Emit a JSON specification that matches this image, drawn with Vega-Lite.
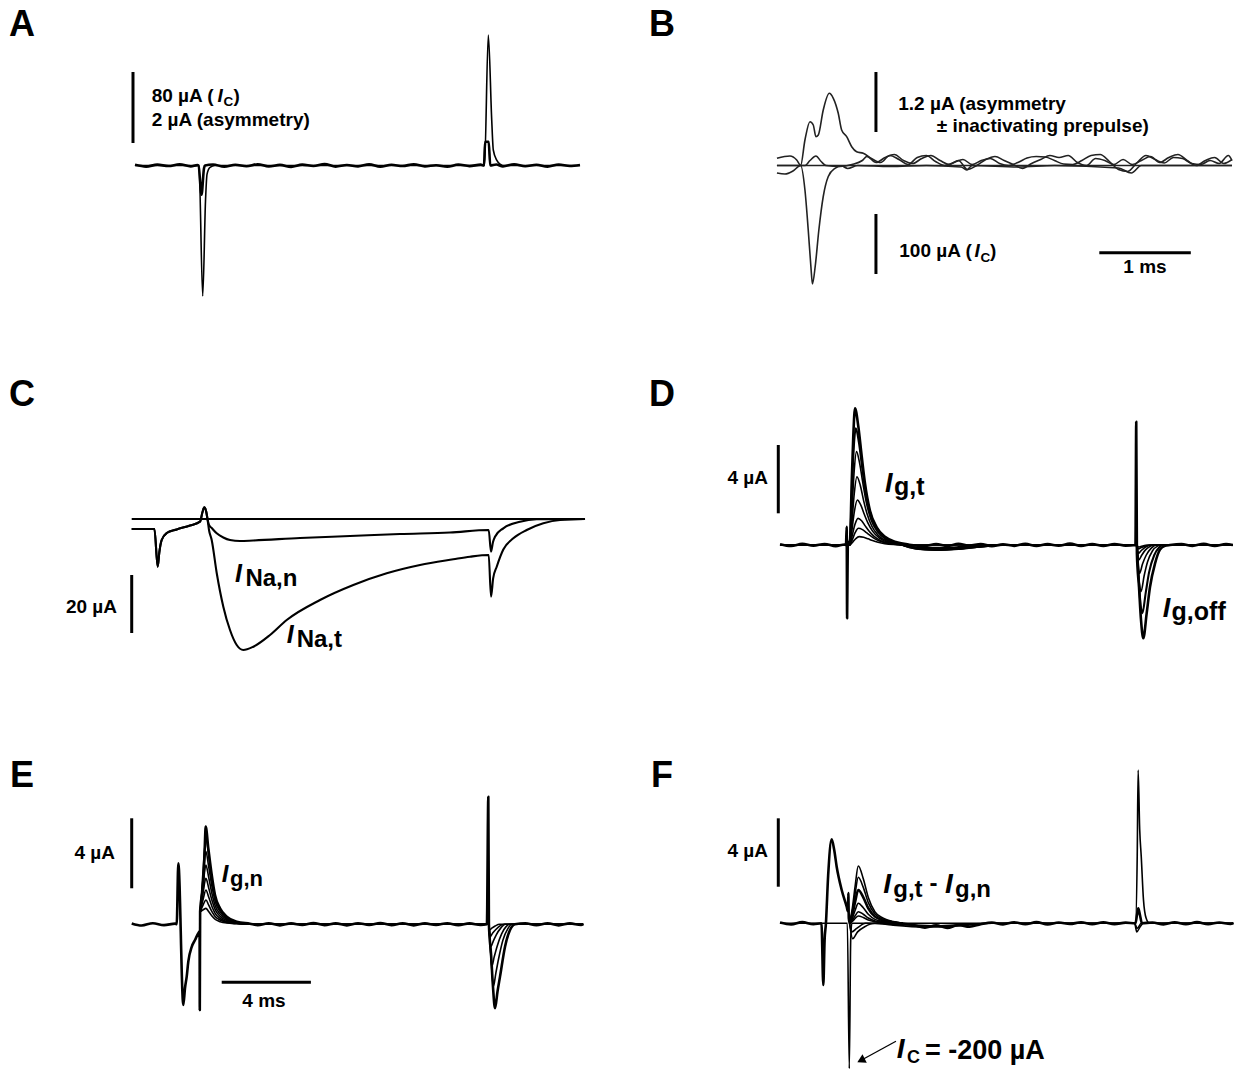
{
"$schema":"https://vega.github.io/schema/vega-lite/v6.json",
"padding":0,"background":"white","spacing":0,
"resolve":{"scale":{"x":"independent","y":"independent"}},
"config":{"view":{"stroke":null},"text":{"font":"Liberation Sans","fontWeight":"bold","color":"black"},"concat":{"spacing":0}},
"datasets":{
"traces":[
{"p":"A","s":"A1","r":"main","t":0,"i":0.8},{"p":"A","s":"A1","r":"main","t":0.5,"i":-1.2},{"p":"A","s":"A1","r":"main","t":1.0,"i":1.0},{"p":"A","s":"A1","r":"main","t":1.5,"i":-0.6},{"p":"A","s":"A1","r":"main","t":2.0,"i":1.4},{"p":"A","s":"A1","r":"main","t":2.5,"i":-1.0},{"p":"A","s":"A1","r":"main","t":2.8,"i":0.5},{"p":"A","s":"A1","r":"main","t":2.848,"i":0},{"p":"A","s":"A1","r":"main","t":2.982,"i":-33},{"p":"A","s":"A1","r":"main","t":3.094,"i":-3},{"p":"A","s":"A1","r":"main","t":3.139,"i":0},{"p":"A","s":"A1","r":"main","t":3.5,"i":1.2},{"p":"A","s":"A1","r":"main","t":4.0,"i":-1.4},{"p":"A","s":"A1","r":"main","t":4.5,"i":0.9},{"p":"A","s":"A1","r":"main","t":5.0,"i":-0.8},{"p":"A","s":"A1","r":"main","t":5.5,"i":1.5},{"p":"A","s":"A1","r":"main","t":6.0,"i":-1.1},{"p":"A","s":"A1","r":"main","t":6.5,"i":0.7},{"p":"A","s":"A1","r":"main","t":7.0,"i":-1.5},{"p":"A","s":"A1","r":"main","t":7.5,"i":1.0},{"p":"A","s":"A1","r":"main","t":8.0,"i":-0.5},{"p":"A","s":"A1","r":"main","t":8.5,"i":1.6},{"p":"A","s":"A1","r":"main","t":9.0,"i":-1.2},{"p":"A","s":"A1","r":"main","t":9.5,"i":0.6},{"p":"A","s":"A1","r":"main","t":10.0,"i":-0.9},{"p":"A","s":"A1","r":"main","t":10.5,"i":1.3},{"p":"A","s":"A1","r":"main","t":11.0,"i":-1.3},{"p":"A","s":"A1","r":"main","t":11.5,"i":0.8},{"p":"A","s":"A1","r":"main","t":12.0,"i":-0.6},{"p":"A","s":"A1","r":"main","t":12.5,"i":1.5},{"p":"A","s":"A1","r":"main","t":13.0,"i":-1.0},{"p":"A","s":"A1","r":"main","t":13.5,"i":0.4},{"p":"A","s":"A1","r":"main","t":14.0,"i":-1.4},{"p":"A","s":"A1","r":"main","t":14.5,"i":1.1},{"p":"A","s":"A1","r":"main","t":15.0,"i":-0.7},{"p":"A","s":"A1","r":"main","t":15.5,"i":1.0},{"p":"A","s":"A1","r":"main","t":15.65,"i":0},{"p":"A","s":"A1","r":"main","t":15.70,"i":26.8},{"p":"A","s":"A1","r":"main","t":15.86,"i":26.8},{"p":"A","s":"A1","r":"main","t":15.93,"i":0},{"p":"A","s":"A1","r":"main","t":16.2,"i":1.2},{"p":"A","s":"A1","r":"main","t":16.5,"i":-1.0},{"p":"A","s":"A1","r":"main","t":17.0,"i":1.4},{"p":"A","s":"A1","r":"main","t":17.5,"i":-0.8},{"p":"A","s":"A1","r":"main","t":18.0,"i":0.9},{"p":"A","s":"A1","r":"main","t":18.5,"i":-1.3},{"p":"A","s":"A1","r":"main","t":19.0,"i":1.1},{"p":"A","s":"A1","r":"main","t":19.5,"i":-0.6},{"p":"A","s":"A1","r":"main","t":19.955,"i":0.5},
{"p":"A","s":"A2","r":"thin","t":0,"i":0},{"p":"A","s":"A2","r":"thin","t":2.870,"i":0},{"p":"A","s":"A2","r":"thin","t":3.036,"i":-147},{"p":"A","s":"A2","r":"thin","t":3.161,"i":-40},{"p":"A","s":"A2","r":"thin","t":3.229,"i":-10},{"p":"A","s":"A2","r":"thin","t":3.363,"i":-2},{"p":"A","s":"A2","r":"thin","t":3.587,"i":0},{"p":"A","s":"A2","r":"thin","t":15.673,"i":0},{"p":"A","s":"A2","r":"thin","t":15.843,"i":147},{"p":"A","s":"A2","r":"thin","t":15.996,"i":51.3},{"p":"A","s":"A2","r":"thin","t":16.067,"i":17.5},{"p":"A","s":"A2","r":"thin","t":16.220,"i":6.2},{"p":"A","s":"A2","r":"thin","t":16.368,"i":1.7},{"p":"A","s":"A2","r":"thin","t":16.547,"i":0},{"p":"A","s":"A2","r":"thin","t":19.955,"i":0},

{"p":"B","s":"B0","r":"thin","t":-0.033,"i":0},{"p":"B","s":"B0","r":"thin","t":4.94,"i":0},
{"p":"B","s":"B1","r":"thin","t":-0.033,"i":0.144},{"p":"B","s":"B1","r":"thin","t":0.109,"i":0.19},{"p":"B","s":"B1","r":"thin","t":0.183,"i":0.11},{"p":"B","s":"B1","r":"thin","t":0.226,"i":0.0},{"p":"B","s":"B1","r":"thin","t":0.273,"i":0.51},{"p":"B","s":"B1","r":"thin","t":0.328,"i":0.876},{"p":"B","s":"B1","r":"thin","t":0.364,"i":0.81},{"p":"B","s":"B1","r":"thin","t":0.393,"i":0.576},{"p":"B","s":"B1","r":"thin","t":0.419,"i":0.61},{"p":"B","s":"B1","r":"thin","t":0.473,"i":1.11},{"p":"B","s":"B1","r":"thin","t":0.539,"i":1.444},{"p":"B","s":"B1","r":"thin","t":0.583,"i":1.344},{"p":"B","s":"B1","r":"thin","t":0.637,"i":1.044},{"p":"B","s":"B1","r":"thin","t":0.674,"i":0.71},{"p":"B","s":"B1","r":"thin","t":0.729,"i":0.576},{"p":"B","s":"B1","r":"thin","t":0.784,"i":0.376},{"p":"B","s":"B1","r":"thin","t":0.838,"i":0.276},{"p":"B","s":"B1","r":"thin","t":0.910,"i":0.244},{"p":"B","s":"B1","r":"thin","t":1.0,"i":0.14},{"p":"B","s":"B1","r":"thin","t":1.1,"i":0.06},{"p":"B","s":"B1","r":"thin","t":1.2,"i":0.2},{"p":"B","s":"B1","r":"thin","t":1.3,"i":0.12},{"p":"B","s":"B1","r":"thin","t":1.4,"i":0.02},{"p":"B","s":"B1","r":"thin","t":1.5,"i":0.16},{"p":"B","s":"B1","r":"thin","t":1.6,"i":0.2},{"p":"B","s":"B1","r":"thin","t":1.7,"i":0.08},{"p":"B","s":"B1","r":"thin","t":1.8,"i":0.0},{"p":"B","s":"B1","r":"thin","t":1.9,"i":0.06},{"p":"B","s":"B1","r":"thin","t":2.0,"i":0.12},{"p":"B","s":"B1","r":"thin","t":2.1,"i":0.02},{"p":"B","s":"B1","r":"thin","t":2.2,"i":0.1},{"p":"B","s":"B1","r":"thin","t":2.3,"i":0.14},{"p":"B","s":"B1","r":"thin","t":2.4,"i":0.04},{"p":"B","s":"B1","r":"thin","t":2.5,"i":0.0},{"p":"B","s":"B1","r":"thin","t":2.6,"i":0.06},{"p":"B","s":"B1","r":"thin","t":2.7,"i":0.15},{"p":"B","s":"B1","r":"thin","t":2.8,"i":0.18},{"p":"B","s":"B1","r":"thin","t":2.9,"i":0.17},{"p":"B","s":"B1","r":"thin","t":3.0,"i":0.1},{"p":"B","s":"B1","r":"thin","t":3.1,"i":0.03},{"p":"B","s":"B1","r":"thin","t":3.2,"i":0.02},{"p":"B","s":"B1","r":"thin","t":3.3,"i":0.1},{"p":"B","s":"B1","r":"thin","t":3.4,"i":0.2},{"p":"B","s":"B1","r":"thin","t":3.5,"i":0.22},{"p":"B","s":"B1","r":"thin","t":3.6,"i":0.08},{"p":"B","s":"B1","r":"thin","t":3.7,"i":-0.08},{"p":"B","s":"B1","r":"thin","t":3.8,"i":-0.12},{"p":"B","s":"B1","r":"thin","t":3.9,"i":0.05},{"p":"B","s":"B1","r":"thin","t":4.0,"i":0.2},{"p":"B","s":"B1","r":"thin","t":4.1,"i":0.12},{"p":"B","s":"B1","r":"thin","t":4.2,"i":0.05},{"p":"B","s":"B1","r":"thin","t":4.3,"i":0.16},{"p":"B","s":"B1","r":"thin","t":4.4,"i":0.14},{"p":"B","s":"B1","r":"thin","t":4.5,"i":0.04},{"p":"B","s":"B1","r":"thin","t":4.6,"i":0.02},{"p":"B","s":"B1","r":"thin","t":4.7,"i":0.1},{"p":"B","s":"B1","r":"thin","t":4.8,"i":0.04},{"p":"B","s":"B1","r":"thin","t":4.9,"i":0.2},{"p":"B","s":"B1","r":"thin","t":4.94,"i":0.1},
{"p":"B","s":"B2","r":"thin","t":-0.033,"i":0},{"p":"B","s":"B2","r":"thin","t":0.273,"i":0},{"p":"B","s":"B2","r":"thin","t":0.328,"i":0.1},{"p":"B","s":"B2","r":"thin","t":0.393,"i":0.19},{"p":"B","s":"B2","r":"thin","t":0.45,"i":0.08},{"p":"B","s":"B2","r":"thin","t":0.503,"i":0},{"p":"B","s":"B2","r":"thin","t":0.656,"i":-0.02},{"p":"B","s":"B2","r":"thin","t":0.787,"i":0.02},{"p":"B","s":"B2","r":"thin","t":0.9,"i":0.1},{"p":"B","s":"B2","r":"thin","t":0.95,"i":0.18},{"p":"B","s":"B2","r":"thin","t":1.05,"i":0.06},{"p":"B","s":"B2","r":"thin","t":1.15,"i":0.16},{"p":"B","s":"B2","r":"thin","t":1.25,"i":0.22},{"p":"B","s":"B2","r":"thin","t":1.35,"i":0.1},{"p":"B","s":"B2","r":"thin","t":1.45,"i":0.04},{"p":"B","s":"B2","r":"thin","t":1.55,"i":0.14},{"p":"B","s":"B2","r":"thin","t":1.65,"i":0.2},{"p":"B","s":"B2","r":"thin","t":1.75,"i":0.1},{"p":"B","s":"B2","r":"thin","t":1.85,"i":0.02},{"p":"B","s":"B2","r":"thin","t":1.95,"i":0.1},{"p":"B","s":"B2","r":"thin","t":2.05,"i":-0.08},{"p":"B","s":"B2","r":"thin","t":2.15,"i":0.0},{"p":"B","s":"B2","r":"thin","t":2.25,"i":0.12},{"p":"B","s":"B2","r":"thin","t":2.35,"i":0.18},{"p":"B","s":"B2","r":"thin","t":2.45,"i":0.1},{"p":"B","s":"B2","r":"thin","t":2.55,"i":0.02},{"p":"B","s":"B2","r":"thin","t":2.65,"i":-0.06},{"p":"B","s":"B2","r":"thin","t":2.75,"i":0.04},{"p":"B","s":"B2","r":"thin","t":2.85,"i":0.12},{"p":"B","s":"B2","r":"thin","t":2.95,"i":0.2},{"p":"B","s":"B2","r":"thin","t":3.05,"i":0.16},{"p":"B","s":"B2","r":"thin","t":3.15,"i":0.2},{"p":"B","s":"B2","r":"thin","t":3.25,"i":0.06},{"p":"B","s":"B2","r":"thin","t":3.35,"i":0.0},{"p":"B","s":"B2","r":"thin","t":3.45,"i":0.14},{"p":"B","s":"B2","r":"thin","t":3.55,"i":0.1},{"p":"B","s":"B2","r":"thin","t":3.65,"i":0.02},{"p":"B","s":"B2","r":"thin","t":3.75,"i":0.12},{"p":"B","s":"B2","r":"thin","t":3.85,"i":0.02},{"p":"B","s":"B2","r":"thin","t":3.95,"i":0.1},{"p":"B","s":"B2","r":"thin","t":4.05,"i":0.18},{"p":"B","s":"B2","r":"thin","t":4.15,"i":0.06},{"p":"B","s":"B2","r":"thin","t":4.25,"i":0.16},{"p":"B","s":"B2","r":"thin","t":4.35,"i":0.22},{"p":"B","s":"B2","r":"thin","t":4.45,"i":0.1},{"p":"B","s":"B2","r":"thin","t":4.55,"i":0.0},{"p":"B","s":"B2","r":"thin","t":4.65,"i":0.1},{"p":"B","s":"B2","r":"thin","t":4.75,"i":0.16},{"p":"B","s":"B2","r":"thin","t":4.85,"i":0.04},{"p":"B","s":"B2","r":"thin","t":4.94,"i":0.12},
{"p":"B","s":"B3","r":"thin","t":-0.033,"i":-0.15},{"p":"B","s":"B3","r":"thin","t":0.055,"i":-0.17},{"p":"B","s":"B3","r":"thin","t":0.142,"i":-0.11},{"p":"B","s":"B3","r":"thin","t":0.226,"i":0},{"p":"B","s":"B3","r":"thin","t":0.273,"i":-0.49},{"p":"B","s":"B3","r":"thin","t":0.309,"i":-1.29},{"p":"B","s":"B3","r":"thin","t":0.338,"i":-2.02},{"p":"B","s":"B3","r":"thin","t":0.355,"i":-2.37},{"p":"B","s":"B3","r":"thin","t":0.385,"i":-2.02},{"p":"B","s":"B3","r":"thin","t":0.425,"i":-1.29},{"p":"B","s":"B3","r":"thin","t":0.473,"i":-0.62},{"p":"B","s":"B3","r":"thin","t":0.528,"i":-0.22},{"p":"B","s":"B3","r":"thin","t":0.601,"i":-0.056},{"p":"B","s":"B3","r":"thin","t":0.674,"i":-0.01},{"p":"B","s":"B3","r":"thin","t":0.74,"i":-0.06},{"p":"B","s":"B3","r":"thin","t":0.85,"i":0.0},{"p":"B","s":"B3","r":"thin","t":1.2,"i":-0.02},{"p":"B","s":"B3","r":"thin","t":1.6,"i":0.0},{"p":"B","s":"B3","r":"thin","t":1.98,"i":-0.03},{"p":"B","s":"B3","r":"thin","t":2.04,"i":-0.09},{"p":"B","s":"B3","r":"thin","t":2.1,"i":0.0},{"p":"B","s":"B3","r":"thin","t":2.6,"i":-0.03},{"p":"B","s":"B3","r":"thin","t":3.0,"i":0.0},{"p":"B","s":"B3","r":"thin","t":3.7,"i":-0.05},{"p":"B","s":"B3","r":"thin","t":3.84,"i":-0.15},{"p":"B","s":"B3","r":"thin","t":3.95,"i":0.0},{"p":"B","s":"B3","r":"thin","t":4.94,"i":0.0},

{"p":"C","s":"C0","r":"mid","t":-0.148,"i":0},{"p":"C","s":"C0","r":"mid","t":20.18,"i":0},
{"p":"C","s":"Ct","r":"mid","t":-0.148,"i":-3.45},{"p":"C","s":"Ct","r":"mid","t":0.87,"i":-3.45},{"p":"C","s":"Ct","r":"mid","t":1.018,"i":-16.45},{"p":"C","s":"Ct","r":"mid","t":1.09,"i":-11.5},{"p":"C","s":"Ct","r":"mid","t":1.196,"i":-7.24},{"p":"C","s":"Ct","r":"mid","t":1.42,"i":-4.83},{"p":"C","s":"Ct","r":"mid","t":1.87,"i":-3.6},{"p":"C","s":"Ct","r":"mid","t":2.466,"i":-2.24},{"p":"C","s":"Ct","r":"mid","t":2.915,"i":-0.93},{"p":"C","s":"Ct","r":"mid","t":3.027,"i":2.41},{"p":"C","s":"Ct","r":"mid","t":3.108,"i":4.03},{"p":"C","s":"Ct","r":"mid","t":3.197,"i":2.41},{"p":"C","s":"Ct","r":"mid","t":3.251,"i":0},{"p":"C","s":"Ct","r":"mid","t":3.318,"i":-3.79},{"p":"C","s":"Ct","r":"mid","t":3.439,"i":-7.24},{"p":"C","s":"Ct","r":"mid","t":3.664,"i":-18.62},{"p":"C","s":"Ct","r":"mid","t":3.960,"i":-30.24},{"p":"C","s":"Ct","r":"mid","t":4.260,"i":-38.28},{"p":"C","s":"Ct","r":"mid","t":4.561,"i":-43.45},{"p":"C","s":"Ct","r":"mid","t":4.857,"i":-45.17},{"p":"C","s":"Ct","r":"mid","t":5.305,"i":-44.03},{"p":"C","s":"Ct","r":"mid","t":6.054,"i":-40},{"p":"C","s":"Ct","r":"mid","t":6.803,"i":-34.83},{"p":"C","s":"Ct","r":"mid","t":8.296,"i":-27.93},{"p":"C","s":"Ct","r":"mid","t":9.789,"i":-22.76},{"p":"C","s":"Ct","r":"mid","t":11.287,"i":-18.72},{"p":"C","s":"Ct","r":"mid","t":12.780,"i":-15.86},{"p":"C","s":"Ct","r":"mid","t":14.274,"i":-13.9},{"p":"C","s":"Ct","r":"mid","t":15.02,"i":-13.0},{"p":"C","s":"Ct","r":"mid","t":15.86,"i":-12.4},{"p":"C","s":"Ct","r":"mid","t":15.964,"i":-26.79},{"p":"C","s":"Ct","r":"mid","t":16.06,"i":-20.5},{"p":"C","s":"Ct","r":"mid","t":16.22,"i":-16.45},{"p":"C","s":"Ct","r":"mid","t":16.516,"i":-10.5},{"p":"C","s":"Ct","r":"mid","t":16.964,"i":-6.66},{"p":"C","s":"Ct","r":"mid","t":17.565,"i":-3.79},{"p":"C","s":"Ct","r":"mid","t":18.31,"i":-1.48},{"p":"C","s":"Ct","r":"mid","t":19.06,"i":-0.34},{"p":"C","s":"Ct","r":"mid","t":20.18,"i":0},
{"p":"C","s":"Cn","r":"mid","t":-0.148,"i":-3.45},{"p":"C","s":"Cn","r":"mid","t":0.87,"i":-3.45},{"p":"C","s":"Cn","r":"mid","t":1.018,"i":-16.45},{"p":"C","s":"Cn","r":"mid","t":1.09,"i":-11.5},{"p":"C","s":"Cn","r":"mid","t":1.196,"i":-7.24},{"p":"C","s":"Cn","r":"mid","t":1.42,"i":-4.83},{"p":"C","s":"Cn","r":"mid","t":1.87,"i":-3.6},{"p":"C","s":"Cn","r":"mid","t":2.466,"i":-2.24},{"p":"C","s":"Cn","r":"mid","t":2.915,"i":-0.93},{"p":"C","s":"Cn","r":"mid","t":3.027,"i":2.41},{"p":"C","s":"Cn","r":"mid","t":3.108,"i":4.03},{"p":"C","s":"Cn","r":"mid","t":3.197,"i":2.41},{"p":"C","s":"Cn","r":"mid","t":3.251,"i":0},{"p":"C","s":"Cn","r":"mid","t":3.318,"i":-2.07},{"p":"C","s":"Cn","r":"mid","t":3.439,"i":-3.1},{"p":"C","s":"Cn","r":"mid","t":3.664,"i":-4.93},{"p":"C","s":"Cn","r":"mid","t":3.960,"i":-6.38},{"p":"C","s":"Cn","r":"mid","t":4.260,"i":-7.24},{"p":"C","s":"Cn","r":"mid","t":4.709,"i":-7.59},{"p":"C","s":"Cn","r":"mid","t":5.305,"i":-7.41},{"p":"C","s":"Cn","r":"mid","t":7.399,"i":-6.55},{"p":"C","s":"Cn","r":"mid","t":9.641,"i":-5.86},{"p":"C","s":"Cn","r":"mid","t":11.883,"i":-5.17},{"p":"C","s":"Cn","r":"mid","t":14.126,"i":-4.66},{"p":"C","s":"Cn","r":"mid","t":15.86,"i":-3.79},{"p":"C","s":"Cn","r":"mid","t":15.964,"i":-11.28},{"p":"C","s":"Cn","r":"mid","t":16.054,"i":-7.93},{"p":"C","s":"Cn","r":"mid","t":16.143,"i":-6.1},{"p":"C","s":"Cn","r":"mid","t":16.516,"i":-3.21},{"p":"C","s":"Cn","r":"mid","t":17.265,"i":-0.93},{"p":"C","s":"Cn","r":"mid","t":18.013,"i":-0.1},{"p":"C","s":"Cn","r":"mid","t":20.18,"i":0},

{"p":"D","s":"D1","r":"main","t":0,"i":0.05},{"p":"D","s":"D1","r":"main","t":0.5,"i":-0.06},{"p":"D","s":"D1","r":"main","t":1.0,"i":0.07},{"p":"D","s":"D1","r":"main","t":1.5,"i":-0.04},{"p":"D","s":"D1","r":"main","t":2.0,"i":0.06},{"p":"D","s":"D1","r":"main","t":2.5,"i":-0.07},{"p":"D","s":"D1","r":"main","t":2.9,"i":0.03},{"p":"D","s":"D1","r":"main","t":2.96,"i":0},{"p":"D","s":"D1","r":"main","t":2.99,"i":1.07},{"p":"D","s":"D1","r":"main","t":3.01,"i":-4.29},{"p":"D","s":"D1","r":"main","t":3.04,"i":0},{"p":"D","s":"D1","r":"main","t":3.139,"i":0.3},{"p":"D","s":"D1","r":"main","t":3.215,"i":3.6},{"p":"D","s":"D1","r":"main","t":3.287,"i":6.4},{"p":"D","s":"D1","r":"main","t":3.363,"i":8.0},{"p":"D","s":"D1","r":"main","t":3.511,"i":6.96},{"p":"D","s":"D1","r":"main","t":3.664,"i":5.2},{"p":"D","s":"D1","r":"main","t":3.812,"i":3.6},{"p":"D","s":"D1","r":"main","t":4.036,"i":2.0},{"p":"D","s":"D1","r":"main","t":4.336,"i":1.04},{"p":"D","s":"D1","r":"main","t":4.709,"i":0.48},{"p":"D","s":"D1","r":"main","t":5.233,"i":0.16},{"p":"D","s":"D1","r":"main","t":5.8,"i":0.02},{"p":"D","s":"D1","r":"main","t":6.5,"i":-0.05},{"p":"D","s":"D1","r":"main","t":7.0,"i":0.05},{"p":"D","s":"D1","r":"main","t":7.5,"i":-0.06},{"p":"D","s":"D1","r":"main","t":8.0,"i":0.07},{"p":"D","s":"D1","r":"main","t":8.5,"i":-0.04},{"p":"D","s":"D1","r":"main","t":9.0,"i":0.06},{"p":"D","s":"D1","r":"main","t":9.5,"i":-0.07},{"p":"D","s":"D1","r":"main","t":10.0,"i":0.04},{"p":"D","s":"D1","r":"main","t":10.5,"i":-0.05},{"p":"D","s":"D1","r":"main","t":11.0,"i":0.07},{"p":"D","s":"D1","r":"main","t":11.5,"i":-0.06},{"p":"D","s":"D1","r":"main","t":12.0,"i":0.05},{"p":"D","s":"D1","r":"main","t":12.5,"i":-0.04},{"p":"D","s":"D1","r":"main","t":13.0,"i":0.08},{"p":"D","s":"D1","r":"main","t":13.5,"i":-0.06},{"p":"D","s":"D1","r":"main","t":14.0,"i":0.05},{"p":"D","s":"D1","r":"main","t":14.5,"i":-0.05},{"p":"D","s":"D1","r":"main","t":15.0,"i":0.06},{"p":"D","s":"D1","r":"main","t":15.5,"i":-0.04},{"p":"D","s":"D1","r":"main","t":15.94,"i":0},{"p":"D","s":"D1","r":"main","t":15.975,"i":7.22},{"p":"D","s":"D1","r":"main","t":16.005,"i":-0.5},{"p":"D","s":"D1","r":"main","t":16.099,"i":-2.46},{"p":"D","s":"D1","r":"main","t":16.188,"i":-4.37},{"p":"D","s":"D1","r":"main","t":16.291,"i":-5.46},{"p":"D","s":"D1","r":"main","t":16.444,"i":-3.99},{"p":"D","s":"D1","r":"main","t":16.592,"i":-2.46},{"p":"D","s":"D1","r":"main","t":16.816,"i":-1.09},{"p":"D","s":"D1","r":"main","t":17.040,"i":-0.27},{"p":"D","s":"D1","r":"main","t":17.265,"i":-0.05},{"p":"D","s":"D1","r":"main","t":17.489,"i":0},{"p":"D","s":"D1","r":"main","t":18.0,"i":0.06},{"p":"D","s":"D1","r":"main","t":18.5,"i":-0.05},{"p":"D","s":"D1","r":"main","t":19.0,"i":0.07},{"p":"D","s":"D1","r":"main","t":19.5,"i":-0.06},{"p":"D","s":"D1","r":"main","t":20.0,"i":0.05},{"p":"D","s":"D1","r":"main","t":20.31,"i":0},
{"p":"D","s":"D2","r":"mid","t":0,"i":0},{"p":"D","s":"D2","r":"mid","t":3.1,"i":0},{"p":"D","s":"D2","r":"mid","t":3.139,"i":0.2},{"p":"D","s":"D2","r":"mid","t":3.215,"i":2.7},{"p":"D","s":"D2","r":"mid","t":3.30,"i":5.5},{"p":"D","s":"D2","r":"mid","t":3.40,"i":6.83},{"p":"D","s":"D2","r":"mid","t":3.54,"i":6.0},{"p":"D","s":"D2","r":"mid","t":3.69,"i":4.5},{"p":"D","s":"D2","r":"mid","t":3.84,"i":3.1},{"p":"D","s":"D2","r":"mid","t":4.06,"i":1.8},{"p":"D","s":"D2","r":"mid","t":4.36,"i":0.95},{"p":"D","s":"D2","r":"mid","t":4.73,"i":0.4},{"p":"D","s":"D2","r":"mid","t":5.25,"i":0.1},{"p":"D","s":"D2","r":"mid","t":6.0,"i":-0.15},{"p":"D","s":"D2","r":"mid","t":7.0,"i":-0.25},{"p":"D","s":"D2","r":"mid","t":8.0,"i":-0.2},{"p":"D","s":"D2","r":"mid","t":9.0,"i":-0.1},{"p":"D","s":"D2","r":"mid","t":10.0,"i":0},{"p":"D","s":"D2","r":"mid","t":15.99,"i":0},{"p":"D","s":"D2","r":"mid","t":16.07,"i":-1.6},{"p":"D","s":"D2","r":"mid","t":16.17,"i":-3.5},{"p":"D","s":"D2","r":"mid","t":16.25,"i":-4.0},{"p":"D","s":"D2","r":"mid","t":16.40,"i":-2.8},{"p":"D","s":"D2","r":"mid","t":16.55,"i":-1.6},{"p":"D","s":"D2","r":"mid","t":16.78,"i":-0.6},{"p":"D","s":"D2","r":"mid","t":17.0,"i":-0.15},{"p":"D","s":"D2","r":"mid","t":17.2,"i":0},{"p":"D","s":"D2","r":"mid","t":20.31,"i":0},
{"p":"D","s":"D3","r":"thin","t":0,"i":0},{"p":"D","s":"D3","r":"thin","t":3.14,"i":0},{"p":"D","s":"D3","r":"thin","t":3.22,"i":1.8},{"p":"D","s":"D3","r":"thin","t":3.32,"i":4.2},{"p":"D","s":"D3","r":"thin","t":3.43,"i":5.47},{"p":"D","s":"D3","r":"thin","t":3.57,"i":4.8},{"p":"D","s":"D3","r":"thin","t":3.72,"i":3.6},{"p":"D","s":"D3","r":"thin","t":3.87,"i":2.5},{"p":"D","s":"D3","r":"thin","t":4.09,"i":1.45},{"p":"D","s":"D3","r":"thin","t":4.39,"i":0.75},{"p":"D","s":"D3","r":"thin","t":4.76,"i":0.32},{"p":"D","s":"D3","r":"thin","t":5.3,"i":0.08},{"p":"D","s":"D3","r":"thin","t":6.0,"i":-0.2},{"p":"D","s":"D3","r":"thin","t":7.0,"i":-0.3},{"p":"D","s":"D3","r":"thin","t":8.0,"i":-0.25},{"p":"D","s":"D3","r":"thin","t":9.0,"i":-0.1},{"p":"D","s":"D3","r":"thin","t":10.0,"i":0},{"p":"D","s":"D3","r":"thin","t":15.99,"i":0},{"p":"D","s":"D3","r":"thin","t":16.07,"i":-1.5},{"p":"D","s":"D3","r":"thin","t":16.14,"i":-2.5},{"p":"D","s":"D3","r":"thin","t":16.188,"i":-2.73},{"p":"D","s":"D3","r":"thin","t":16.33,"i":-1.8},{"p":"D","s":"D3","r":"thin","t":16.48,"i":-1.0},{"p":"D","s":"D3","r":"thin","t":16.7,"i":-0.35},{"p":"D","s":"D3","r":"thin","t":16.95,"i":-0.05},{"p":"D","s":"D3","r":"thin","t":17.1,"i":0},{"p":"D","s":"D3","r":"thin","t":20.31,"i":0},
{"p":"D","s":"D4","r":"thin","t":0,"i":0},{"p":"D","s":"D4","r":"thin","t":3.14,"i":0},{"p":"D","s":"D4","r":"thin","t":3.22,"i":1.2},{"p":"D","s":"D4","r":"thin","t":3.33,"i":3.0},{"p":"D","s":"D4","r":"thin","t":3.45,"i":4.0},{"p":"D","s":"D4","r":"thin","t":3.6,"i":3.5},{"p":"D","s":"D4","r":"thin","t":3.75,"i":2.6},{"p":"D","s":"D4","r":"thin","t":3.9,"i":1.85},{"p":"D","s":"D4","r":"thin","t":4.12,"i":1.1},{"p":"D","s":"D4","r":"thin","t":4.42,"i":0.55},{"p":"D","s":"D4","r":"thin","t":4.8,"i":0.22},{"p":"D","s":"D4","r":"thin","t":5.35,"i":0.05},{"p":"D","s":"D4","r":"thin","t":6.2,"i":-0.25},{"p":"D","s":"D4","r":"thin","t":7.2,"i":-0.3},{"p":"D","s":"D4","r":"thin","t":8.2,"i":-0.2},{"p":"D","s":"D4","r":"thin","t":9.2,"i":-0.08},{"p":"D","s":"D4","r":"thin","t":10.0,"i":0},{"p":"D","s":"D4","r":"thin","t":15.99,"i":0},{"p":"D","s":"D4","r":"thin","t":16.06,"i":-1.0},{"p":"D","s":"D4","r":"thin","t":16.12,"i":-1.66},{"p":"D","s":"D4","r":"thin","t":16.26,"i":-1.1},{"p":"D","s":"D4","r":"thin","t":16.42,"i":-0.6},{"p":"D","s":"D4","r":"thin","t":16.64,"i":-0.2},{"p":"D","s":"D4","r":"thin","t":16.9,"i":0},{"p":"D","s":"D4","r":"thin","t":20.31,"i":0},
{"p":"D","s":"D5","r":"thin","t":0,"i":0},{"p":"D","s":"D5","r":"thin","t":3.14,"i":0},{"p":"D","s":"D5","r":"thin","t":3.22,"i":0.8},{"p":"D","s":"D5","r":"thin","t":3.34,"i":2.0},{"p":"D","s":"D5","r":"thin","t":3.47,"i":2.64},{"p":"D","s":"D5","r":"thin","t":3.62,"i":2.35},{"p":"D","s":"D5","r":"thin","t":3.78,"i":1.8},{"p":"D","s":"D5","r":"thin","t":3.94,"i":1.3},{"p":"D","s":"D5","r":"thin","t":4.16,"i":0.8},{"p":"D","s":"D5","r":"thin","t":4.46,"i":0.4},{"p":"D","s":"D5","r":"thin","t":4.85,"i":0.15},{"p":"D","s":"D5","r":"thin","t":5.4,"i":0.03},{"p":"D","s":"D5","r":"thin","t":6.3,"i":-0.2},{"p":"D","s":"D5","r":"thin","t":7.3,"i":-0.22},{"p":"D","s":"D5","r":"thin","t":8.3,"i":-0.12},{"p":"D","s":"D5","r":"thin","t":9.5,"i":0},{"p":"D","s":"D5","r":"thin","t":15.99,"i":0},{"p":"D","s":"D5","r":"thin","t":16.05,"i":-0.55},{"p":"D","s":"D5","r":"thin","t":16.09,"i":-0.88},{"p":"D","s":"D5","r":"thin","t":16.22,"i":-0.6},{"p":"D","s":"D5","r":"thin","t":16.38,"i":-0.3},{"p":"D","s":"D5","r":"thin","t":16.6,"i":-0.08},{"p":"D","s":"D5","r":"thin","t":16.8,"i":0},{"p":"D","s":"D5","r":"thin","t":20.31,"i":0},
{"p":"D","s":"D6","r":"thin","t":0,"i":0},{"p":"D","s":"D6","r":"thin","t":3.14,"i":0},{"p":"D","s":"D6","r":"thin","t":3.23,"i":0.5},{"p":"D","s":"D6","r":"thin","t":3.36,"i":1.2},{"p":"D","s":"D6","r":"thin","t":3.5,"i":1.56},{"p":"D","s":"D6","r":"thin","t":3.66,"i":1.42},{"p":"D","s":"D6","r":"thin","t":3.82,"i":1.12},{"p":"D","s":"D6","r":"thin","t":4.0,"i":0.8},{"p":"D","s":"D6","r":"thin","t":4.22,"i":0.5},{"p":"D","s":"D6","r":"thin","t":4.52,"i":0.25},{"p":"D","s":"D6","r":"thin","t":4.9,"i":0.1},{"p":"D","s":"D6","r":"thin","t":5.5,"i":0},{"p":"D","s":"D6","r":"thin","t":6.4,"i":-0.15},{"p":"D","s":"D6","r":"thin","t":7.5,"i":-0.15},{"p":"D","s":"D6","r":"thin","t":8.5,"i":-0.05},{"p":"D","s":"D6","r":"thin","t":9.5,"i":0},{"p":"D","s":"D6","r":"thin","t":15.99,"i":0},{"p":"D","s":"D6","r":"thin","t":16.04,"i":-0.3},{"p":"D","s":"D6","r":"thin","t":16.07,"i":-0.49},{"p":"D","s":"D6","r":"thin","t":16.2,"i":-0.32},{"p":"D","s":"D6","r":"thin","t":16.36,"i":-0.15},{"p":"D","s":"D6","r":"thin","t":16.55,"i":-0.03},{"p":"D","s":"D6","r":"thin","t":16.7,"i":0},{"p":"D","s":"D6","r":"thin","t":20.31,"i":0},
{"p":"D","s":"D7","r":"thin","t":0,"i":0},{"p":"D","s":"D7","r":"thin","t":3.14,"i":0},{"p":"D","s":"D7","r":"thin","t":3.24,"i":0.3},{"p":"D","s":"D7","r":"thin","t":3.38,"i":0.75},{"p":"D","s":"D7","r":"thin","t":3.52,"i":0.98},{"p":"D","s":"D7","r":"thin","t":3.7,"i":0.9},{"p":"D","s":"D7","r":"thin","t":3.88,"i":0.72},{"p":"D","s":"D7","r":"thin","t":4.08,"i":0.52},{"p":"D","s":"D7","r":"thin","t":4.3,"i":0.33},{"p":"D","s":"D7","r":"thin","t":4.6,"i":0.17},{"p":"D","s":"D7","r":"thin","t":5.0,"i":0.06},{"p":"D","s":"D7","r":"thin","t":5.6,"i":0},{"p":"D","s":"D7","r":"thin","t":15.99,"i":0},{"p":"D","s":"D7","r":"thin","t":16.04,"i":-0.15},{"p":"D","s":"D7","r":"thin","t":16.07,"i":-0.23},{"p":"D","s":"D7","r":"thin","t":16.2,"i":-0.15},{"p":"D","s":"D7","r":"thin","t":16.4,"i":-0.05},{"p":"D","s":"D7","r":"thin","t":16.6,"i":0},{"p":"D","s":"D7","r":"thin","t":20.31,"i":0},
{"p":"D","s":"D8","r":"thin","t":3.14,"i":0},{"p":"D","s":"D8","r":"thin","t":3.25,"i":0.15},{"p":"D","s":"D8","r":"thin","t":3.4,"i":0.38},{"p":"D","s":"D8","r":"thin","t":3.55,"i":0.49},{"p":"D","s":"D8","r":"thin","t":3.75,"i":0.45},{"p":"D","s":"D8","r":"thin","t":3.95,"i":0.36},{"p":"D","s":"D8","r":"thin","t":4.15,"i":0.26},{"p":"D","s":"D8","r":"thin","t":4.4,"i":0.16},{"p":"D","s":"D8","r":"thin","t":4.7,"i":0.08},{"p":"D","s":"D8","r":"thin","t":5.1,"i":0.03},{"p":"D","s":"D8","r":"thin","t":5.8,"i":0},{"p":"D","s":"D8","r":"thin","t":15.99,"i":0},{"p":"D","s":"D8","r":"thin","t":16.04,"i":-0.08},{"p":"D","s":"D8","r":"thin","t":16.07,"i":-0.12},{"p":"D","s":"D8","r":"thin","t":16.2,"i":-0.08},{"p":"D","s":"D8","r":"thin","t":16.4,"i":-0.02},{"p":"D","s":"D8","r":"thin","t":16.6,"i":0},{"p":"D","s":"D8","r":"thin","t":20.31,"i":0},

{"p":"E","s":"E1","r":"main","t":-0.148,"i":0.05},{"p":"E","s":"E1","r":"main","t":0.3,"i":-0.07},{"p":"E","s":"E1","r":"main","t":0.8,"i":0.06},{"p":"E","s":"E1","r":"main","t":1.3,"i":-0.05},{"p":"E","s":"E1","r":"main","t":1.8,"i":0.04},{"p":"E","s":"E1","r":"main","t":1.870,"i":0},{"p":"E","s":"E1","r":"main","t":1.942,"i":3.49},{"p":"E","s":"E1","r":"main","t":2.166,"i":-4.61},{"p":"E","s":"E1","r":"main","t":2.242,"i":-3.64},{"p":"E","s":"E1","r":"main","t":2.318,"i":-2.99},{"p":"E","s":"E1","r":"main","t":2.39,"i":-2.13},{"p":"E","s":"E1","r":"main","t":2.543,"i":-1.29},{"p":"E","s":"E1","r":"main","t":2.691,"i":-0.9},{"p":"E","s":"E1","r":"main","t":2.839,"i":-0.51},{"p":"E","s":"E1","r":"main","t":2.896,"i":-0.4},{"p":"E","s":"E1","r":"main","t":2.905,"i":-4.9},{"p":"E","s":"E1","r":"main","t":2.92,"i":0.72},{"p":"E","s":"E1","r":"main","t":3.063,"i":2.43},{"p":"E","s":"E1","r":"main","t":3.126,"i":4.34},{"p":"E","s":"E1","r":"main","t":3.170,"i":5.58},{"p":"E","s":"E1","r":"main","t":3.287,"i":4.35},{"p":"E","s":"E1","r":"main","t":3.439,"i":2.83},{"p":"E","s":"E1","r":"main","t":3.587,"i":1.67},{"p":"E","s":"E1","r":"main","t":3.812,"i":0.91},{"p":"E","s":"E1","r":"main","t":4.112,"i":0.44},{"p":"E","s":"E1","r":"main","t":4.561,"i":0.15},{"p":"E","s":"E1","r":"main","t":5.157,"i":0.03},{"p":"E","s":"E1","r":"main","t":5.5,"i":-0.05},{"p":"E","s":"E1","r":"main","t":6.0,"i":0.06},{"p":"E","s":"E1","r":"main","t":6.5,"i":-0.06},{"p":"E","s":"E1","r":"main","t":7.0,"i":0.05},{"p":"E","s":"E1","r":"main","t":7.5,"i":-0.04},{"p":"E","s":"E1","r":"main","t":8.0,"i":0.07},{"p":"E","s":"E1","r":"main","t":8.5,"i":-0.05},{"p":"E","s":"E1","r":"main","t":9.0,"i":0.05},{"p":"E","s":"E1","r":"main","t":9.5,"i":-0.06},{"p":"E","s":"E1","r":"main","t":10.0,"i":0.06},{"p":"E","s":"E1","r":"main","t":10.5,"i":-0.04},{"p":"E","s":"E1","r":"main","t":11.0,"i":0.07},{"p":"E","s":"E1","r":"main","t":11.5,"i":-0.05},{"p":"E","s":"E1","r":"main","t":12.0,"i":0.06},{"p":"E","s":"E1","r":"main","t":12.5,"i":-0.06},{"p":"E","s":"E1","r":"main","t":13.0,"i":0.05},{"p":"E","s":"E1","r":"main","t":13.5,"i":-0.04},{"p":"E","s":"E1","r":"main","t":14.0,"i":0.06},{"p":"E","s":"E1","r":"main","t":14.5,"i":-0.05},{"p":"E","s":"E1","r":"main","t":15.0,"i":0.05},{"p":"E","s":"E1","r":"main","t":15.5,"i":-0.04},{"p":"E","s":"E1","r":"main","t":15.78,"i":0},{"p":"E","s":"E1","r":"main","t":15.843,"i":7.29},{"p":"E","s":"E1","r":"main","t":15.87,"i":0},{"p":"E","s":"E1","r":"main","t":15.964,"i":-1.68},{"p":"E","s":"E1","r":"main","t":16.054,"i":-3.6},{"p":"E","s":"E1","r":"main","t":16.143,"i":-4.8},{"p":"E","s":"E1","r":"main","t":16.256,"i":-3.84},{"p":"E","s":"E1","r":"main","t":16.368,"i":-2.99},{"p":"E","s":"E1","r":"main","t":16.592,"i":-1.28},{"p":"E","s":"E1","r":"main","t":16.816,"i":-0.33},{"p":"E","s":"E1","r":"main","t":17.040,"i":0},{"p":"E","s":"E1","r":"main","t":17.5,"i":0.06},{"p":"E","s":"E1","r":"main","t":18.0,"i":-0.05},{"p":"E","s":"E1","r":"main","t":18.5,"i":0.06},{"p":"E","s":"E1","r":"main","t":19.0,"i":-0.06},{"p":"E","s":"E1","r":"main","t":19.5,"i":0.05},{"p":"E","s":"E1","r":"main","t":20.0,"i":-0.04},{"p":"E","s":"E1","r":"main","t":20.1,"i":0},
{"p":"E","s":"E2","r":"thin","t":2.928,"i":0.72},{"p":"E","s":"E2","r":"thin","t":3.06,"i":3.23},{"p":"E","s":"E2","r":"thin","t":3.18,"i":4.91},{"p":"E","s":"E2","r":"thin","t":3.30,"i":3.93},{"p":"E","s":"E2","r":"thin","t":3.45,"i":2.55},{"p":"E","s":"E2","r":"thin","t":3.60,"i":1.52},{"p":"E","s":"E2","r":"thin","t":3.82,"i":0.83},{"p":"E","s":"E2","r":"thin","t":4.11,"i":0.39},{"p":"E","s":"E2","r":"thin","t":4.56,"i":0.15},{"p":"E","s":"E2","r":"thin","t":5.16,"i":0},{"p":"E","s":"E2","r":"thin","t":15.86,"i":0},{"p":"E","s":"E2","r":"thin","t":15.95,"i":-1.6},{"p":"E","s":"E2","r":"thin","t":16.067,"i":-3.57},{"p":"E","s":"E2","r":"thin","t":16.18,"i":-2.8},{"p":"E","s":"E2","r":"thin","t":16.3,"i":-2.0},{"p":"E","s":"E2","r":"thin","t":16.5,"i":-0.9},{"p":"E","s":"E2","r":"thin","t":16.72,"i":-0.25},{"p":"E","s":"E2","r":"thin","t":16.9,"i":0},{"p":"E","s":"E2","r":"thin","t":20.1,"i":0},
{"p":"E","s":"E3","r":"thin","t":2.928,"i":0.72},{"p":"E","s":"E3","r":"thin","t":3.06,"i":2.78},{"p":"E","s":"E3","r":"thin","t":3.18,"i":4.15},{"p":"E","s":"E3","r":"thin","t":3.30,"i":3.32},{"p":"E","s":"E3","r":"thin","t":3.45,"i":2.16},{"p":"E","s":"E3","r":"thin","t":3.60,"i":1.29},{"p":"E","s":"E3","r":"thin","t":3.82,"i":0.71},{"p":"E","s":"E3","r":"thin","t":4.11,"i":0.33},{"p":"E","s":"E3","r":"thin","t":4.56,"i":0.12},{"p":"E","s":"E3","r":"thin","t":5.16,"i":0},{"p":"E","s":"E3","r":"thin","t":15.86,"i":0},{"p":"E","s":"E3","r":"thin","t":15.93,"i":-1.3},{"p":"E","s":"E3","r":"thin","t":15.996,"i":-2.42},{"p":"E","s":"E3","r":"thin","t":16.11,"i":-1.85},{"p":"E","s":"E3","r":"thin","t":16.24,"i":-1.25},{"p":"E","s":"E3","r":"thin","t":16.44,"i":-0.55},{"p":"E","s":"E3","r":"thin","t":16.65,"i":-0.12},{"p":"E","s":"E3","r":"thin","t":16.8,"i":0},{"p":"E","s":"E3","r":"thin","t":20.1,"i":0},
{"p":"E","s":"E4","r":"thin","t":2.928,"i":0.72},{"p":"E","s":"E4","r":"thin","t":3.06,"i":2.32},{"p":"E","s":"E4","r":"thin","t":3.18,"i":3.39},{"p":"E","s":"E4","r":"thin","t":3.30,"i":2.71},{"p":"E","s":"E4","r":"thin","t":3.45,"i":1.76},{"p":"E","s":"E4","r":"thin","t":3.60,"i":1.05},{"p":"E","s":"E4","r":"thin","t":3.82,"i":0.58},{"p":"E","s":"E4","r":"thin","t":4.11,"i":0.27},{"p":"E","s":"E4","r":"thin","t":4.56,"i":0.10},{"p":"E","s":"E4","r":"thin","t":5.16,"i":0},{"p":"E","s":"E4","r":"thin","t":15.86,"i":0},{"p":"E","s":"E4","r":"thin","t":15.951,"i":-1.28},{"p":"E","s":"E4","r":"thin","t":16.07,"i":-0.95},{"p":"E","s":"E4","r":"thin","t":16.2,"i":-0.6},{"p":"E","s":"E4","r":"thin","t":16.4,"i":-0.22},{"p":"E","s":"E4","r":"thin","t":16.6,"i":0},{"p":"E","s":"E4","r":"thin","t":20.1,"i":0},
{"p":"E","s":"E5","r":"thin","t":2.928,"i":0.72},{"p":"E","s":"E5","r":"thin","t":3.06,"i":1.87},{"p":"E","s":"E5","r":"thin","t":3.18,"i":2.63},{"p":"E","s":"E5","r":"thin","t":3.30,"i":2.10},{"p":"E","s":"E5","r":"thin","t":3.45,"i":1.37},{"p":"E","s":"E5","r":"thin","t":3.60,"i":0.82},{"p":"E","s":"E5","r":"thin","t":3.82,"i":0.45},{"p":"E","s":"E5","r":"thin","t":4.11,"i":0.21},{"p":"E","s":"E5","r":"thin","t":4.56,"i":0.08},{"p":"E","s":"E5","r":"thin","t":5.16,"i":0},{"p":"E","s":"E5","r":"thin","t":15.86,"i":0},{"p":"E","s":"E5","r":"thin","t":15.919,"i":-0.71},{"p":"E","s":"E5","r":"thin","t":16.04,"i":-0.5},{"p":"E","s":"E5","r":"thin","t":16.18,"i":-0.3},{"p":"E","s":"E5","r":"thin","t":16.38,"i":-0.08},{"p":"E","s":"E5","r":"thin","t":16.55,"i":0},{"p":"E","s":"E5","r":"thin","t":20.1,"i":0},
{"p":"E","s":"E6","r":"thin","t":2.928,"i":0.72},{"p":"E","s":"E6","r":"thin","t":3.06,"i":1.46},{"p":"E","s":"E6","r":"thin","t":3.18,"i":1.96},{"p":"E","s":"E6","r":"thin","t":3.30,"i":1.57},{"p":"E","s":"E6","r":"thin","t":3.45,"i":1.02},{"p":"E","s":"E6","r":"thin","t":3.60,"i":0.61},{"p":"E","s":"E6","r":"thin","t":3.82,"i":0.33},{"p":"E","s":"E6","r":"thin","t":4.11,"i":0.16},{"p":"E","s":"E6","r":"thin","t":4.56,"i":0.06},{"p":"E","s":"E6","r":"thin","t":5.16,"i":0},{"p":"E","s":"E6","r":"thin","t":15.86,"i":0},{"p":"E","s":"E6","r":"thin","t":15.888,"i":-0.33},{"p":"E","s":"E6","r":"thin","t":16.0,"i":-0.22},{"p":"E","s":"E6","r":"thin","t":16.15,"i":-0.1},{"p":"E","s":"E6","r":"thin","t":16.35,"i":0},{"p":"E","s":"E6","r":"thin","t":20.1,"i":0},
{"p":"E","s":"E7","r":"thin","t":2.928,"i":0.72},{"p":"E","s":"E7","r":"thin","t":3.06,"i":1.12},{"p":"E","s":"E7","r":"thin","t":3.18,"i":1.39},{"p":"E","s":"E7","r":"thin","t":3.30,"i":1.11},{"p":"E","s":"E7","r":"thin","t":3.45,"i":0.72},{"p":"E","s":"E7","r":"thin","t":3.60,"i":0.43},{"p":"E","s":"E7","r":"thin","t":3.82,"i":0.24},{"p":"E","s":"E7","r":"thin","t":4.11,"i":0.11},{"p":"E","s":"E7","r":"thin","t":4.56,"i":0.04},{"p":"E","s":"E7","r":"thin","t":5.16,"i":0},
{"p":"E","s":"E8","r":"thin","t":2.928,"i":0.72},{"p":"E","s":"E8","r":"thin","t":3.06,"i":0.83},{"p":"E","s":"E8","r":"thin","t":3.18,"i":0.91},{"p":"E","s":"E8","r":"thin","t":3.30,"i":0.73},{"p":"E","s":"E8","r":"thin","t":3.45,"i":0.47},{"p":"E","s":"E8","r":"thin","t":3.60,"i":0.28},{"p":"E","s":"E8","r":"thin","t":3.82,"i":0.15},{"p":"E","s":"E8","r":"thin","t":4.11,"i":0.07},{"p":"E","s":"E8","r":"thin","t":4.56,"i":0.03},{"p":"E","s":"E8","r":"thin","t":5.16,"i":0},

{"p":"F","s":"F1","r":"main","t":0,"i":0.05},{"p":"F","s":"F1","r":"main","t":0.5,"i":-0.06},{"p":"F","s":"F1","r":"main","t":1.0,"i":0.07},{"p":"F","s":"F1","r":"main","t":1.5,"i":-0.05},{"p":"F","s":"F1","r":"main","t":1.86,"i":0},{"p":"F","s":"F1","r":"main","t":1.942,"i":-3.61},{"p":"F","s":"F1","r":"main","t":2.0,"i":-1.0},{"p":"F","s":"F1","r":"main","t":2.06,"i":0},{"p":"F","s":"F1","r":"main","t":2.16,"i":2.8},{"p":"F","s":"F1","r":"main","t":2.318,"i":4.91},{"p":"F","s":"F1","r":"main","t":2.43,"i":4.3},{"p":"F","s":"F1","r":"main","t":2.542,"i":3.31},{"p":"F","s":"F1","r":"main","t":2.767,"i":1.95},{"p":"F","s":"F1","r":"main","t":2.991,"i":0.97},{"p":"F","s":"F1","r":"main","t":3.05,"i":0.7},{"p":"F","s":"F1","r":"main","t":3.065,"i":1.77},{"p":"F","s":"F1","r":"main","t":3.085,"i":0.3},{"p":"F","s":"F1","r":"main","t":3.13,"i":0},{"p":"F","s":"F1","r":"main","t":3.24,"i":0.49},{"p":"F","s":"F1","r":"main","t":3.37,"i":1.27},{"p":"F","s":"F1","r":"main","t":3.511,"i":1.95},{"p":"F","s":"F1","r":"main","t":3.735,"i":1.52},{"p":"F","s":"F1","r":"main","t":3.96,"i":0.88},{"p":"F","s":"F1","r":"main","t":4.26,"i":0.39},{"p":"F","s":"F1","r":"main","t":4.63,"i":0.18},{"p":"F","s":"F1","r":"main","t":5.08,"i":0.06},{"p":"F","s":"F1","r":"main","t":5.4,"i":0},{"p":"F","s":"F1","r":"main","t":6.0,"i":-0.1},{"p":"F","s":"F1","r":"main","t":6.5,"i":-0.25},{"p":"F","s":"F1","r":"main","t":7.0,"i":-0.12},{"p":"F","s":"F1","r":"main","t":7.5,"i":-0.27},{"p":"F","s":"F1","r":"main","t":8.0,"i":-0.1},{"p":"F","s":"F1","r":"main","t":8.5,"i":-0.2},{"p":"F","s":"F1","r":"main","t":9.0,"i":-0.05},{"p":"F","s":"F1","r":"main","t":9.5,"i":0.05},{"p":"F","s":"F1","r":"main","t":10.0,"i":-0.06},{"p":"F","s":"F1","r":"main","t":10.5,"i":0.06},{"p":"F","s":"F1","r":"main","t":11.0,"i":-0.05},{"p":"F","s":"F1","r":"main","t":11.5,"i":0.07},{"p":"F","s":"F1","r":"main","t":12.0,"i":-0.06},{"p":"F","s":"F1","r":"main","t":12.5,"i":0.05},{"p":"F","s":"F1","r":"main","t":13.0,"i":-0.04},{"p":"F","s":"F1","r":"main","t":13.5,"i":0.06},{"p":"F","s":"F1","r":"main","t":14.0,"i":-0.05},{"p":"F","s":"F1","r":"main","t":14.5,"i":0.06},{"p":"F","s":"F1","r":"main","t":15.0,"i":-0.05},{"p":"F","s":"F1","r":"main","t":15.5,"i":0.04},{"p":"F","s":"F1","r":"main","t":15.94,"i":0},{"p":"F","s":"F1","r":"main","t":16.01,"i":0.5},{"p":"F","s":"F1","r":"main","t":16.067,"i":0.88},{"p":"F","s":"F1","r":"main","t":16.14,"i":0.5},{"p":"F","s":"F1","r":"main","t":16.23,"i":0},{"p":"F","s":"F1","r":"main","t":16.7,"i":0.05},{"p":"F","s":"F1","r":"main","t":17.2,"i":-0.06},{"p":"F","s":"F1","r":"main","t":17.7,"i":0.06},{"p":"F","s":"F1","r":"main","t":18.2,"i":-0.05},{"p":"F","s":"F1","r":"main","t":18.7,"i":0.07},{"p":"F","s":"F1","r":"main","t":19.2,"i":-0.05},{"p":"F","s":"F1","r":"main","t":19.7,"i":0.05},{"p":"F","s":"F1","r":"main","t":20.2,"i":-0.04},{"p":"F","s":"F1","r":"main","t":20.33,"i":0},
{"p":"F","s":"F0","r":"thin","t":0,"i":0},{"p":"F","s":"F0","r":"thin","t":3.02,"i":0},{"p":"F","s":"F0","r":"thin","t":3.108,"i":-8.5},{"p":"F","s":"F0","r":"thin","t":3.17,"i":-1.0},{"p":"F","s":"F0","r":"thin","t":3.22,"i":0},{"p":"F","s":"F0","r":"thin","t":15.94,"i":0},{"p":"F","s":"F0","r":"thin","t":16.02,"i":4.0},{"p":"F","s":"F0","r":"thin","t":16.06,"i":8.96},{"p":"F","s":"F0","r":"thin","t":16.13,"i":5.5},{"p":"F","s":"F0","r":"thin","t":16.2,"i":3.9},{"p":"F","s":"F0","r":"thin","t":16.3,"i":1.37},{"p":"F","s":"F0","r":"thin","t":16.42,"i":0.29},{"p":"F","s":"F0","r":"thin","t":16.57,"i":0},{"p":"F","s":"F0","r":"thin","t":20.33,"i":0},
{"p":"F","s":"F2","r":"thin","t":3.12,"i":0},{"p":"F","s":"F2","r":"thin","t":3.24,"i":0.84},{"p":"F","s":"F2","r":"thin","t":3.37,"i":2.18},{"p":"F","s":"F2","r":"thin","t":3.511,"i":3.35},{"p":"F","s":"F2","r":"thin","t":3.735,"i":2.61},{"p":"F","s":"F2","r":"thin","t":3.96,"i":1.51},{"p":"F","s":"F2","r":"thin","t":4.26,"i":0.67},{"p":"F","s":"F2","r":"thin","t":4.63,"i":0.30},{"p":"F","s":"F2","r":"thin","t":5.08,"i":0.10},{"p":"F","s":"F2","r":"thin","t":5.5,"i":0},
{"p":"F","s":"F3","r":"thin","t":3.12,"i":0},{"p":"F","s":"F3","r":"thin","t":3.24,"i":0.67},{"p":"F","s":"F3","r":"thin","t":3.37,"i":1.75},{"p":"F","s":"F3","r":"thin","t":3.511,"i":2.69},{"p":"F","s":"F3","r":"thin","t":3.735,"i":2.10},{"p":"F","s":"F3","r":"thin","t":3.96,"i":1.21},{"p":"F","s":"F3","r":"thin","t":4.26,"i":0.54},{"p":"F","s":"F3","r":"thin","t":4.63,"i":0.24},{"p":"F","s":"F3","r":"thin","t":5.08,"i":0.08},{"p":"F","s":"F3","r":"thin","t":5.5,"i":0},
{"p":"F","s":"F4","r":"thin","t":3.12,"i":0},{"p":"F","s":"F4","r":"thin","t":3.24,"i":0.29},{"p":"F","s":"F4","r":"thin","t":3.37,"i":0.76},{"p":"F","s":"F4","r":"thin","t":3.511,"i":1.17},{"p":"F","s":"F4","r":"thin","t":3.735,"i":0.91},{"p":"F","s":"F4","r":"thin","t":3.96,"i":0.53},{"p":"F","s":"F4","r":"thin","t":4.26,"i":0.23},{"p":"F","s":"F4","r":"thin","t":4.63,"i":0.11},{"p":"F","s":"F4","r":"thin","t":5.08,"i":0.04},{"p":"F","s":"F4","r":"thin","t":5.5,"i":0},
{"p":"F","s":"F5","r":"thin","t":3.12,"i":0},{"p":"F","s":"F5","r":"thin","t":3.24,"i":0.17},{"p":"F","s":"F5","r":"thin","t":3.37,"i":0.44},{"p":"F","s":"F5","r":"thin","t":3.511,"i":0.68},{"p":"F","s":"F5","r":"thin","t":3.735,"i":0.53},{"p":"F","s":"F5","r":"thin","t":3.96,"i":0.31},{"p":"F","s":"F5","r":"thin","t":4.26,"i":0.14},{"p":"F","s":"F5","r":"thin","t":4.63,"i":0.06},{"p":"F","s":"F5","r":"thin","t":5.08,"i":0.02},{"p":"F","s":"F5","r":"thin","t":5.5,"i":0},
{"p":"F","s":"F6","r":"thin","t":3.12,"i":0},{"p":"F","s":"F6","r":"thin","t":3.24,"i":0.11},{"p":"F","s":"F6","r":"thin","t":3.37,"i":0.28},{"p":"F","s":"F6","r":"thin","t":3.511,"i":0.43},{"p":"F","s":"F6","r":"thin","t":3.735,"i":0.34},{"p":"F","s":"F6","r":"thin","t":3.96,"i":0.19},{"p":"F","s":"F6","r":"thin","t":4.26,"i":0.09},{"p":"F","s":"F6","r":"thin","t":4.63,"i":0.04},{"p":"F","s":"F6","r":"thin","t":5.08,"i":0.01},{"p":"F","s":"F6","r":"thin","t":5.5,"i":0},
{"p":"F","s":"F7","r":"thin","t":3.12,"i":0},{"p":"F","s":"F7","r":"thin","t":3.26,"i":-0.9},{"p":"F","s":"F7","r":"thin","t":3.48,"i":-0.5},{"p":"F","s":"F7","r":"thin","t":3.8,"i":-0.2},{"p":"F","s":"F7","r":"thin","t":4.26,"i":0},{"p":"F","s":"F7","r":"thin","t":5.0,"i":-0.1},{"p":"F","s":"F7","r":"thin","t":6.5,"i":-0.22},{"p":"F","s":"F7","r":"thin","t":8.0,"i":-0.15},{"p":"F","s":"F7","r":"thin","t":9.5,"i":0},{"p":"F","s":"F7","r":"thin","t":15.9,"i":0},{"p":"F","s":"F7","r":"thin","t":16.0,"i":-0.5},{"p":"F","s":"F7","r":"thin","t":16.15,"i":-0.2},{"p":"F","s":"F7","r":"thin","t":16.3,"i":0},{"p":"F","s":"F7","r":"thin","t":20.33,"i":0},
{"p":"F","s":"F8","r":"thin","t":3.12,"i":0},{"p":"F","s":"F8","r":"thin","t":3.22,"i":-0.5},{"p":"F","s":"F8","r":"thin","t":3.44,"i":-0.3},{"p":"F","s":"F8","r":"thin","t":3.84,"i":0},{"p":"F","s":"F8","r":"thin","t":5.5,"i":-0.08},{"p":"F","s":"F8","r":"thin","t":7.0,"i":-0.15},{"p":"F","s":"F8","r":"thin","t":8.5,"i":-0.05},{"p":"F","s":"F8","r":"thin","t":9.5,"i":0},{"p":"F","s":"F8","r":"thin","t":15.9,"i":0},{"p":"F","s":"F8","r":"thin","t":16.02,"i":-0.3},{"p":"F","s":"F8","r":"thin","t":16.2,"i":0},{"p":"F","s":"F8","r":"thin","t":20.33,"i":0}
],
"bars":[
{"p":"A","t":-0.09,"t2":-0.09,"i":105.4,"i2":25.4},
{"p":"B","t":1.049,"t2":1.049,"i":1.87,"i2":0.67},
{"p":"B","t":1.049,"t2":1.049,"i":-0.97,"i2":-2.17},
{"p":"B","t":3.49,"t2":4.49,"i":-1.744,"i2":-1.744},
{"p":"C","t":-0.148,"t2":-0.148,"i":-19.31,"i2":-39.31},
{"p":"D","t":-0.076,"t2":-0.076,"i":5.857,"i2":1.857},
{"p":"E","t":-0.148,"t2":-0.148,"i":6.057,"i2":2.057},
{"p":"E","t":3.888,"t2":7.888,"i":-3.314,"i2":-3.314},
{"p":"F","t":-0.076,"t2":-0.076,"i":6.14,"i2":2.14}
],
"pointer":[{"p":"F","t":5.2,"i":-6.9,"t2":3.722,"i2":-7.95}],
"pointerHead":[{"p":"F","t":3.632,"i":-8.01}],
"labels":[
{"p":"A","part":"letter","t":-5.067,"i":158.3,"txt":"A"},
{"p":"A","part":"note","t":0.749,"i":71.9,"txt":"80 µA ("},
{"p":"A","part":"sym","t":3.70,"i":71.9,"txt":"I"},
{"p":"A","part":"sub","t":3.97,"i":67.0,"txt":"C"},
{"p":"A","part":"note","t":4.42,"i":71.9,"txt":")"},
{"p":"A","part":"note","t":0.749,"i":44.5,"txt":"2 µA (asymmetry)"},
{"p":"B","part":"letter","t":-1.290,"i":2.81,"txt":"B"},
{"p":"B","part":"note","t":1.293,"i":1.11,"txt":"1.2  µA (asymmetry"},
{"p":"B","part":"note","t":1.713,"i":0.67,"txt":"± inactivating prepulse)"},
{"p":"B","part":"note","t":1.304,"i":-1.824,"txt":"100 µA ("},
{"p":"B","part":"sym","t":2.126,"i":-1.824,"txt":"I"},
{"p":"B","part":"sub","t":2.191,"i":-1.924,"txt":"C"},
{"p":"B","part":"note","t":2.295,"i":-1.824,"txt":")"},
{"p":"B","part":"center","t":3.989,"i":-2.156,"txt":"1 ms"},
{"p":"C","part":"letter","t":-5.067,"i":42.76,"txt":"C"},
{"p":"C","part":"scale","t":-0.807,"i":-32.4,"txt":"20 µA"},
{"p":"C","part":"sym","t":4.484,"i":-21.62,"txt":"I"},
{"p":"C","part":"sub","t":4.95,"i":-23.0,"txt":"Na,n"},
{"p":"C","part":"sym","t":6.803,"i":-42.86,"txt":"I"},
{"p":"C","part":"sub","t":7.25,"i":-44.2,"txt":"Na,t"},
{"p":"D","part":"letter","t":-5.291,"i":8.785,"txt":"D"},
{"p":"D","part":"scale","t":-0.538,"i":3.57,"txt":"4 µA"},
{"p":"D","part":"sym","t":4.709,"i":3.12,"txt":"I"},
{"p":"D","part":"sub","t":5.11,"i":2.9,"txt":"g,t"},
{"p":"D","part":"sym","t":17.161,"i":-4.2,"txt":"I"},
{"p":"D","part":"sub","t":17.56,"i":-4.4,"txt":"g,off"},
{"p":"E","part":"letter","t":-5.067,"i":8.474,"txt":"E"},
{"p":"E","part":"scale","t":-0.897,"i":3.73,"txt":"4 µA"},
{"p":"E","part":"sym","t":3.888,"i":2.434,"txt":"I"},
{"p":"E","part":"sub","t":4.26,"i":2.2,"txt":"g,n"},
{"p":"E","part":"center","t":5.785,"i":-4.726,"txt":"4 ms"},
{"p":"F","part":"letter","t":-5.291,"i":8.614,"txt":"F"},
{"p":"F","part":"scale","t":-0.538,"i":3.877,"txt":"4 µA"},
{"p":"F","part":"sym","t":4.632,"i":1.754,"txt":"I"},
{"p":"F","part":"sub","t":5.08,"i":1.55,"txt":"g,t"},
{"p":"F","part":"sub","t":6.70,"i":1.9,"txt":"-"},
{"p":"F","part":"sym","t":7.399,"i":1.754,"txt":"I"},
{"p":"F","part":"sub","t":7.85,"i":1.55,"txt":"g,n"},
{"p":"F","part":"sym","t":5.233,"i":-7.9,"txt":"I"},
{"p":"F","part":"subs","t":5.70,"i":-8.15,"txt":"C"},
{"p":"F","part":"note","t":6.502,"i":-7.95,"txt":"= -200 µA"}
]
},
"vconcat":[
{"hconcat":[
{"width":617,"height":356,
"encoding":{"x":{"field":"t","type":"quantitative","scale":{"domain":[-6.054,21.614],"nice":false,"zero":false},"axis":null},"y":{"field":"i","type":"quantitative","scale":{"domain":[-214.6,186.5],"nice":false,"zero":false},"axis":null}},
"layer":[
{"data":{"name":"traces"},"transform":[{"filter":"datum.p==='A'"}],"mark":{"type":"line","interpolate":"monotone","clip":true,"color":"black","strokeJoin":"round"},"encoding":{"detail":{"field":"s","type":"nominal"},"strokeWidth":{"field":"r","type":"nominal","scale":{"domain":["main","mid","thin"],"range":[2.6,1.6,1.1]},"legend":null}}},
{"data":{"name":"bars"},"transform":[{"filter":"datum.p==='A'"}],"mark":{"type":"rule","strokeWidth":3,"color":"black"},"encoding":{"x2":{"field":"t2"},"y2":{"field":"i2"}}},
{"data":{"name":"labels"},"transform":[{"filter":"datum.p==='A' && datum.part==='letter'"}],"mark":{"type":"text","fontSize":36,"align":"center","baseline":"middle"},"encoding":{"text":{"field":"txt","type":"nominal"}}},
{"data":{"name":"labels"},"transform":[{"filter":"datum.p==='A' && datum.part==='note'"}],"mark":{"type":"text","fontSize":19,"align":"left","baseline":"alphabetic"},"encoding":{"text":{"field":"txt","type":"nominal"}}},
{"data":{"name":"labels"},"transform":[{"filter":"datum.p==='A' && datum.part==='sym'"}],"mark":{"type":"text","fontSize":19,"fontStyle":"italic","align":"left","baseline":"alphabetic"},"encoding":{"text":{"field":"txt","type":"nominal"}}},
{"data":{"name":"labels"},"transform":[{"filter":"datum.p==='A' && datum.part==='sub'"}],"mark":{"type":"text","fontSize":13.5,"align":"left","baseline":"alphabetic"},"encoding":{"text":{"field":"txt","type":"nominal"}}}
]},
{"width":618,"height":356,
"encoding":{"x":{"field":"t","type":"quantitative","scale":{"domain":[-1.781,4.973],"nice":false,"zero":false},"axis":null},"y":{"field":"i","type":"quantitative","scale":{"domain":[-3.81,3.31],"nice":false,"zero":false},"axis":null}},
"layer":[
{"data":{"name":"traces"},"transform":[{"filter":"datum.p==='B'"}],"mark":{"type":"line","interpolate":"monotone","clip":true,"color":"#222222","strokeJoin":"round"},"encoding":{"detail":{"field":"s","type":"nominal"},"strokeWidth":{"field":"r","type":"nominal","scale":{"domain":["main","mid","thin"],"range":[2.6,1.6,1.1]},"legend":null}}},
{"data":{"name":"bars"},"transform":[{"filter":"datum.p==='B'"}],"mark":{"type":"rule","strokeWidth":3,"color":"black"},"encoding":{"x2":{"field":"t2"},"y2":{"field":"i2"}}},
{"data":{"name":"labels"},"transform":[{"filter":"datum.p==='B' && datum.part==='letter'"}],"mark":{"type":"text","fontSize":36,"align":"center","baseline":"middle"},"encoding":{"text":{"field":"txt","type":"nominal"}}},
{"data":{"name":"labels"},"transform":[{"filter":"datum.p==='B' && datum.part==='note'"}],"mark":{"type":"text","fontSize":19,"align":"left","baseline":"alphabetic"},"encoding":{"text":{"field":"txt","type":"nominal"}}},
{"data":{"name":"labels"},"transform":[{"filter":"datum.p==='B' && datum.part==='center'"}],"mark":{"type":"text","fontSize":19,"align":"center","baseline":"alphabetic"},"encoding":{"text":{"field":"txt","type":"nominal"}}},
{"data":{"name":"labels"},"transform":[{"filter":"datum.p==='B' && datum.part==='sym'"}],"mark":{"type":"text","fontSize":19,"fontStyle":"italic","align":"left","baseline":"alphabetic"},"encoding":{"text":{"field":"txt","type":"nominal"}}},
{"data":{"name":"labels"},"transform":[{"filter":"datum.p==='B' && datum.part==='sub'"}],"mark":{"type":"text","fontSize":13.5,"align":"left","baseline":"alphabetic"},"encoding":{"text":{"field":"txt","type":"nominal"}}}
]}
],"spacing":0,"bounds":"flush","resolve":{"scale":{"x":"independent","y":"independent"}}},
{"hconcat":[
{"width":617,"height":356,
"encoding":{"x":{"field":"t","type":"quantitative","scale":{"domain":[-6.054,21.614],"nice":false,"zero":false},"axis":null},"y":{"field":"i","type":"quantitative","scale":{"domain":[-66.55,56.21],"nice":false,"zero":false},"axis":null}},
"layer":[
{"data":{"name":"traces"},"transform":[{"filter":"datum.p==='C'"}],"mark":{"type":"line","interpolate":"monotone","clip":true,"color":"black","strokeJoin":"round"},"encoding":{"detail":{"field":"s","type":"nominal"},"strokeWidth":{"field":"r","type":"nominal","scale":{"domain":["main","mid","thin"],"range":[2.6,1.6,1.1]},"legend":null}}},
{"data":{"name":"bars"},"transform":[{"filter":"datum.p==='C'"}],"mark":{"type":"rule","strokeWidth":3,"color":"black"},"encoding":{"x2":{"field":"t2"},"y2":{"field":"i2"}}},
{"data":{"name":"labels"},"transform":[{"filter":"datum.p==='C' && datum.part==='letter'"}],"mark":{"type":"text","fontSize":36,"align":"center","baseline":"middle"},"encoding":{"text":{"field":"txt","type":"nominal"}}},
{"data":{"name":"labels"},"transform":[{"filter":"datum.p==='C' && datum.part==='scale'"}],"mark":{"type":"text","fontSize":19,"align":"right","baseline":"alphabetic"},"encoding":{"text":{"field":"txt","type":"nominal"}}},
{"data":{"name":"labels"},"transform":[{"filter":"datum.p==='C' && datum.part==='sym'"}],"mark":{"type":"text","fontSize":25,"fontStyle":"italic","align":"left","baseline":"alphabetic"},"encoding":{"text":{"field":"txt","type":"nominal"}}},
{"data":{"name":"labels"},"transform":[{"filter":"datum.p==='C' && datum.part==='sub'"}],"mark":{"type":"text","fontSize":24,"align":"left","baseline":"alphabetic"},"encoding":{"text":{"field":"txt","type":"nominal"}}}
]},
{"width":618,"height":356,
"encoding":{"x":{"field":"t","type":"quantitative","scale":{"domain":[-7.309,20.404],"nice":false,"zero":false},"axis":null},"y":{"field":"i","type":"quantitative","scale":{"domain":[-9.78,11.07],"nice":false,"zero":false},"axis":null}},
"layer":[
{"data":{"name":"traces"},"transform":[{"filter":"datum.p==='D'"}],"mark":{"type":"line","interpolate":"monotone","clip":true,"color":"black","strokeJoin":"round"},"encoding":{"detail":{"field":"s","type":"nominal"},"strokeWidth":{"field":"r","type":"nominal","scale":{"domain":["main","mid","thin"],"range":[2.6,1.6,1.1]},"legend":null}}},
{"data":{"name":"bars"},"transform":[{"filter":"datum.p==='D'"}],"mark":{"type":"rule","strokeWidth":3,"color":"black"},"encoding":{"x2":{"field":"t2"},"y2":{"field":"i2"}}},
{"data":{"name":"labels"},"transform":[{"filter":"datum.p==='D' && datum.part==='letter'"}],"mark":{"type":"text","fontSize":36,"align":"center","baseline":"middle"},"encoding":{"text":{"field":"txt","type":"nominal"}}},
{"data":{"name":"labels"},"transform":[{"filter":"datum.p==='D' && datum.part==='scale'"}],"mark":{"type":"text","fontSize":19,"align":"right","baseline":"alphabetic"},"encoding":{"text":{"field":"txt","type":"nominal"}}},
{"data":{"name":"labels"},"transform":[{"filter":"datum.p==='D' && datum.part==='sym'"}],"mark":{"type":"text","fontSize":27,"fontStyle":"italic","align":"left","baseline":"alphabetic"},"encoding":{"text":{"field":"txt","type":"nominal"}}},
{"data":{"name":"labels"},"transform":[{"filter":"datum.p==='D' && datum.part==='sub'"}],"mark":{"type":"text","fontSize":25,"align":"left","baseline":"alphabetic"},"encoding":{"text":{"field":"txt","type":"nominal"}}}
]}
],"spacing":0,"bounds":"flush","resolve":{"scale":{"x":"independent","y":"independent"}}},
{"hconcat":[
{"width":617,"height":357,
"encoding":{"x":{"field":"t","type":"quantitative","scale":{"domain":[-6.054,21.614],"nice":false,"zero":false},"axis":null},"y":{"field":"i","type":"quantitative","scale":{"domain":[-8.27,12.13],"nice":false,"zero":false},"axis":null}},
"layer":[
{"data":{"name":"traces"},"transform":[{"filter":"datum.p==='E'"}],"mark":{"type":"line","interpolate":"monotone","clip":true,"color":"black","strokeJoin":"round"},"encoding":{"detail":{"field":"s","type":"nominal"},"strokeWidth":{"field":"r","type":"nominal","scale":{"domain":["main","mid","thin"],"range":[2.6,1.6,1.1]},"legend":null}}},
{"data":{"name":"bars"},"transform":[{"filter":"datum.p==='E'"}],"mark":{"type":"rule","strokeWidth":3,"color":"black"},"encoding":{"x2":{"field":"t2"},"y2":{"field":"i2"}}},
{"data":{"name":"labels"},"transform":[{"filter":"datum.p==='E' && datum.part==='letter'"}],"mark":{"type":"text","fontSize":36,"align":"center","baseline":"middle"},"encoding":{"text":{"field":"txt","type":"nominal"}}},
{"data":{"name":"labels"},"transform":[{"filter":"datum.p==='E' && datum.part==='scale'"}],"mark":{"type":"text","fontSize":19,"align":"right","baseline":"alphabetic"},"encoding":{"text":{"field":"txt","type":"nominal"}}},
{"data":{"name":"labels"},"transform":[{"filter":"datum.p==='E' && datum.part==='center'"}],"mark":{"type":"text","fontSize":19,"align":"center","baseline":"alphabetic"},"encoding":{"text":{"field":"txt","type":"nominal"}}},
{"data":{"name":"labels"},"transform":[{"filter":"datum.p==='E' && datum.part==='sym'"}],"mark":{"type":"text","fontSize":24,"fontStyle":"italic","align":"left","baseline":"alphabetic"},"encoding":{"text":{"field":"txt","type":"nominal"}}},
{"data":{"name":"labels"},"transform":[{"filter":"datum.p==='E' && datum.part==='sub'"}],"mark":{"type":"text","fontSize":22,"align":"left","baseline":"alphabetic"},"encoding":{"text":{"field":"txt","type":"nominal"}}}
]},
{"width":618,"height":357,
"encoding":{"x":{"field":"t","type":"quantitative","scale":{"domain":[-7.309,20.404],"nice":false,"zero":false},"axis":null},"y":{"field":"i","type":"quantitative","scale":{"domain":[-8.52,12.357],"nice":false,"zero":false},"axis":null}},
"layer":[
{"data":{"name":"traces"},"transform":[{"filter":"datum.p==='F'"}],"mark":{"type":"line","interpolate":"monotone","clip":true,"color":"black","strokeJoin":"round"},"encoding":{"detail":{"field":"s","type":"nominal"},"strokeWidth":{"field":"r","type":"nominal","scale":{"domain":["main","mid","thin"],"range":[2.6,1.6,1.1]},"legend":null}}},
{"data":{"name":"bars"},"transform":[{"filter":"datum.p==='F'"}],"mark":{"type":"rule","strokeWidth":3,"color":"black"},"encoding":{"x2":{"field":"t2"},"y2":{"field":"i2"}}},
{"data":{"name":"pointer"},"mark":{"type":"rule","strokeWidth":1.3,"color":"black"},"encoding":{"x2":{"field":"t2"},"y2":{"field":"i2"}}},
{"data":{"name":"pointerHead"},"mark":{"type":"point","shape":"triangle-up","angle":243,"size":90,"filled":true,"color":"black","opacity":1},"encoding":{}},
{"data":{"name":"labels"},"transform":[{"filter":"datum.p==='F' && datum.part==='letter'"}],"mark":{"type":"text","fontSize":36,"align":"center","baseline":"middle"},"encoding":{"text":{"field":"txt","type":"nominal"}}},
{"data":{"name":"labels"},"transform":[{"filter":"datum.p==='F' && datum.part==='scale'"}],"mark":{"type":"text","fontSize":19,"align":"right","baseline":"alphabetic"},"encoding":{"text":{"field":"txt","type":"nominal"}}},
{"data":{"name":"labels"},"transform":[{"filter":"datum.p==='F' && datum.part==='sym'"}],"mark":{"type":"text","fontSize":28,"fontStyle":"italic","align":"left","baseline":"alphabetic"},"encoding":{"text":{"field":"txt","type":"nominal"}}},
{"data":{"name":"labels"},"transform":[{"filter":"datum.p==='F' && datum.part==='sub'"}],"mark":{"type":"text","fontSize":24,"align":"left","baseline":"alphabetic"},"encoding":{"text":{"field":"txt","type":"nominal"}}},
{"data":{"name":"labels"},"transform":[{"filter":"datum.p==='F' && datum.part==='subs'"}],"mark":{"type":"text","fontSize":18,"align":"left","baseline":"alphabetic"},"encoding":{"text":{"field":"txt","type":"nominal"}}},
{"data":{"name":"labels"},"transform":[{"filter":"datum.p==='F' && datum.part==='note'"}],"mark":{"type":"text","fontSize":27,"align":"left","baseline":"alphabetic"},"encoding":{"text":{"field":"txt","type":"nominal"}}}
]}
],"spacing":0,"bounds":"flush","resolve":{"scale":{"x":"independent","y":"independent"}}}
]
}
